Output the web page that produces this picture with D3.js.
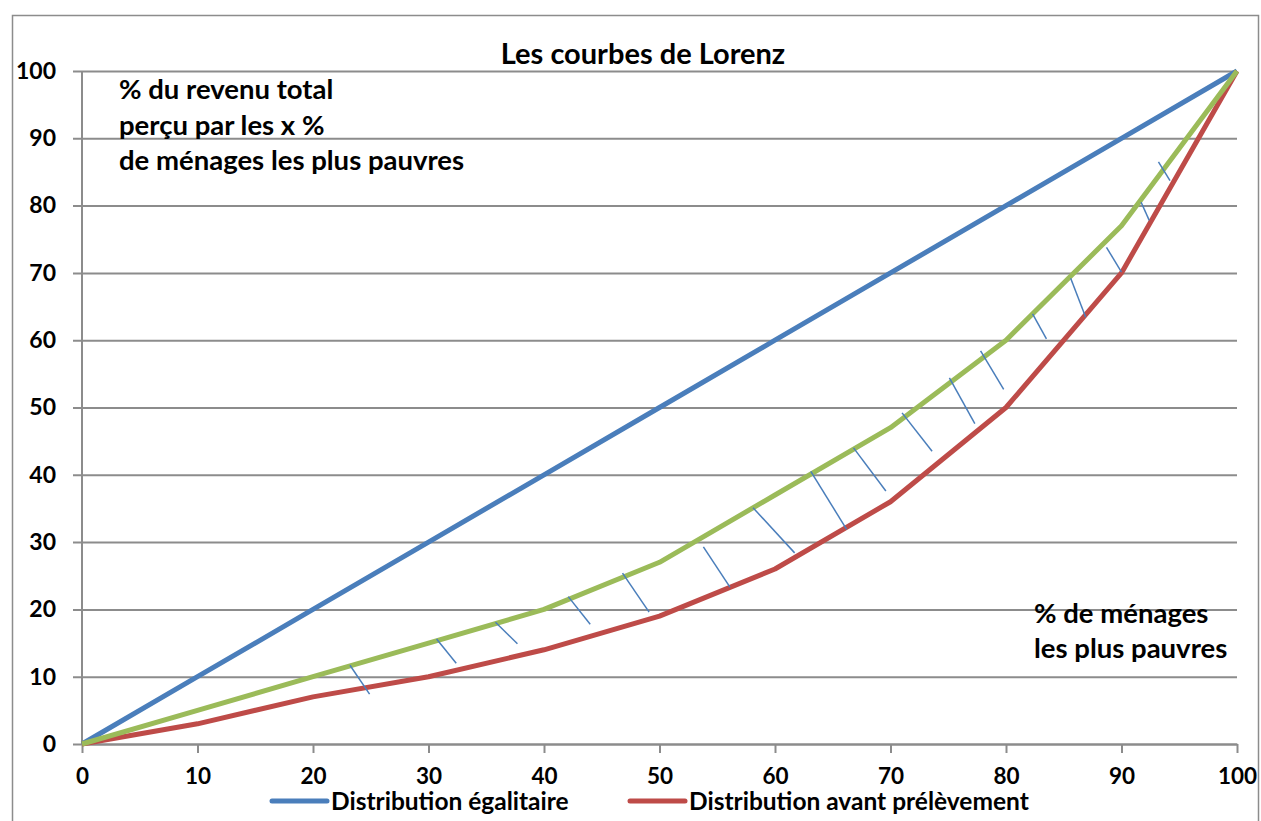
<!DOCTYPE html>
<html>
<head>
<meta charset="utf-8">
<script src="https://cdn.jsdelivr.net/npm/d3@7"></script>
<style>
  body { margin: 0; background: #fff; }
  svg { display: block; font-family: Lato, "Open Sans", sans-serif; font-weight: bold; }
</style>
</head>
<body>
<div class="canvas"></div>
<script>
      // data
      const xValues = [0, 10, 20, 30, 40, 50, 60, 70, 80, 90, 100];
      const egalitaire = [0, 10, 20, 30, 40, 50, 60, 70, 80, 90, 100];
      const avantPrelevement = [0, 3, 7, 10, 14, 19, 26, 36, 50, 70, 100];
      const apresPrelevement = [0, 5, 10, 15, 20, 27, 37, 47, 60, 77, 100];
      const yTicks = [0, 10, 20, 30, 40, 50, 60, 70, 80, 90, 100];
      const xTicks = [0, 10, 20, 30, 40, 50, 60, 70, 80, 90, 100];

      // hatch marks between the two lower curves (start / end, in data units)
      const hatchStart = [[23.2, 11.7], [30.7, 15.6], [35.8, 18.1], [42.1, 21.9], [46.8, 25.4],
        [53.8, 29.3], [58.1, 35.1], [63.1, 40.5], [66.8, 44.0], [71.0, 49.2], [75.1, 54.4],
        [77.8, 58.4], [82.3, 63.9], [85.6, 69.2], [88.7, 73.8], [91.7, 80.5], [93.2, 86.5]];
      const hatchEnd = [[24.9, 7.4], [32.4, 12.0], [37.7, 14.9], [44.0, 17.8], [49.1, 19.6],
        [56.1, 23.3], [61.7, 28.4], [66.2, 31.9], [69.6, 37.6], [73.6, 43.5], [77.3, 47.6],
        [79.8, 52.7], [83.5, 60.2], [86.9, 63.4], [90.0, 70.1], [92.4, 77.8], [94.2, 83.7]];

      const title = 'Les courbes de Lorenz';
      const yNote = ['% du revenu total', 'perçu par les x %', 'de ménages les plus pauvres'];
      const xNote = ['% de ménages', 'les plus pauvres'];
      const legendNames = ['Distribution égalitaire', 'Distribution avant prélèvement'];

      const width = 1261, height = 821;
      const margin = { top: 71, right: 24, bottom: 77, left: 82 };
      const graphwidth = width - margin.left - margin.right;
      const graphheight = height - margin.top - margin.bottom;

      const grey = '#8c8c8c';
      const blue = '#4a7ebb', red = '#be4b48', green = '#9bbb59';

      const svg = d3.select('.canvas')
        .append('svg')
        .attr('width', width)
        .attr('height', height);

      // outer frame
      svg.append('rect')
        .attr('x', 12.5).attr('y', 15.5)
        .attr('width', 1246).attr('height', 840)
        .attr('fill', 'none')
        .attr('stroke', grey)
        .attr('stroke-width', 1.5);

      const graph = svg.append('g')
        .attr('transform', `translate(${margin.left}, ${margin.top})`);

      // scales
      const x = d3.scaleLinear().domain([0, 100]).range([0, graphwidth]);
      const y = d3.scaleLinear().domain([0, 100]).range([graphheight, 0]);

      // gridlines + y axis
      const yAxis = d3.axisLeft(y)
        .tickValues(yTicks)
        .tickSize(-graphwidth)
        .tickSizeOuter(0)
        .tickPadding(26)
        .tickFormat(d3.format('d'));

      const yaxisGroup = graph.append('g').call(yAxis);
      yaxisGroup.select('.domain').remove();
      yaxisGroup.selectAll('line')
        .attr('x1', -9)
        .attr('stroke', grey)
        .attr('stroke-width', 2);
      yaxisGroup.selectAll('text')
        .attr('font-size', 23)
        .attr('fill', '#000')
        .attr('font-family', 'Lato, sans-serif')
        .attr('font-weight', 'bold');

      // vertical axis line
      graph.append('line')
        .attr('x1', x(0)).attr('x2', x(0))
        .attr('y1', y(100)).attr('y2', y(0))
        .attr('stroke', grey).attr('stroke-width', 2);

      // x axis
      const xAxis = d3.axisBottom(x)
        .tickValues(xTicks)
        .tickSize(9)
        .tickSizeOuter(0)
        .tickPadding(15)
        .tickFormat(d3.format('d'));

      const xaxisGroup = graph.append('g')
        .attr('transform', `translate(0, ${graphheight})`)
        .call(xAxis);
      xaxisGroup.select('.domain')
        .attr('stroke', grey).attr('stroke-width', 2);
      xaxisGroup.selectAll('line')
        .attr('stroke', grey).attr('stroke-width', 2);
      xaxisGroup.selectAll('text')
        .attr('font-size', 22.5)
        .attr('fill', '#000')
        .attr('font-family', 'Lato, sans-serif')
        .attr('font-weight', 'bold');

      // lines
      const line = d3.line()
        .x((d, i) => x(xValues[i]))
        .y(d => y(d));

      const series = [
        { values: egalitaire, color: blue },
        { values: avantPrelevement, color: red },
        { values: apresPrelevement, color: green }
      ];

      graph.selectAll('path.serie')
        .data(series)
        .enter()
        .append('path')
          .attr('class', 'serie')
          .attr('fill', 'none')
          .attr('stroke', d => d.color)
          .attr('stroke-width', 5)
          .attr('stroke-linejoin', 'round')
          .attr('d', d => line(d.values));

      // hatch marks
      graph.selectAll('line.hatch')
        .data(hatchStart)
        .enter()
        .append('line')
          .attr('class', 'hatch')
          .attr('x1', d => x(d[0]))
          .attr('y1', d => y(d[1]))
          .attr('x2', (d, i) => x(hatchEnd[i][0]))
          .attr('y2', (d, i) => y(hatchEnd[i][1]))
          .attr('stroke', blue)
          .attr('stroke-width', 1.5);

      // title
      svg.append('text')
        .attr('x', 643).attr('y', 64)
        .attr('text-anchor', 'middle')
        .attr('font-size', 29)
        .text(title);

      // y annotation
      svg.append('g').selectAll('text')
        .data(yNote)
        .enter()
        .append('text')
          .attr('x', 119)
          .attr('y', (d, i) => 99 + i * 35.5)
          .attr('font-size', 27.5)
          .text(d => d);

      // x annotation
      svg.append('g').selectAll('text')
        .data(xNote)
        .enter()
        .append('text')
          .attr('x', 1034)
          .attr('y', (d, i) => 623 + i * 35)
          .attr('font-size', 27.5)
          .text(d => d);

      // legend
      const legendX = [272, 630];
      const legend = svg.append('g').selectAll('g')
        .data(legendNames)
        .enter()
        .append('g')
          .attr('transform', (d, i) => `translate(${legendX[i]}, 801)`);

      legend.append('line')
        .attr('x1', 0).attr('x2', 55)
        .attr('y1', 0).attr('y2', 0)
        .attr('stroke', (d, i) => i === 0 ? blue : red)
        .attr('stroke-width', 5)
        .attr('stroke-linecap', 'round');

      legend.append('text')
        .attr('x', 59).attr('y', 9)
        .attr('font-size', 24.5)
        .text(d => d);
</script>
</body>
</html>
